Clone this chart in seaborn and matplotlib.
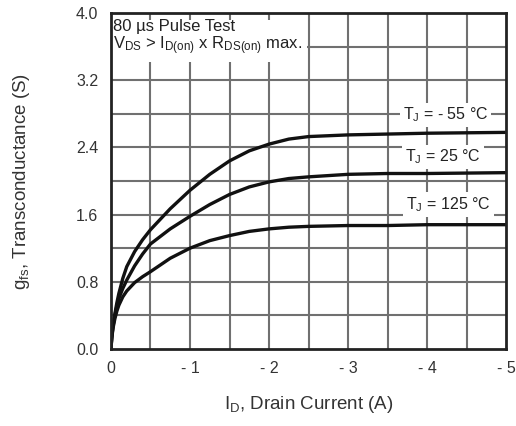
import matplotlib
matplotlib.use('Agg')
import matplotlib.pyplot as plt
import numpy as np
import pandas as pd
import seaborn as sns

# drain current (plotted as magnitude, labelled negative)
i_d = [0, 0.01, 0.025, 0.05, 0.075, 0.1, 0.15, 0.2, 0.3, 0.4, 0.5, 0.75, 1.0, 1.25,
       1.5, 1.75, 2.0, 2.25, 2.5, 3.0, 3.5, 4.0, 5.0]
gfs_m55 = [0, 0.14, 0.27, 0.42, 0.55, 0.66, 0.84, 0.98, 1.16, 1.30, 1.42, 1.67, 1.89,
           2.08, 2.24, 2.36, 2.44, 2.50, 2.53, 2.55, 2.56, 2.57, 2.58]
gfs_25 = [0, 0.13, 0.26, 0.40, 0.51, 0.60, 0.72, 0.82, 0.99, 1.13, 1.25, 1.43, 1.58,
          1.72, 1.84, 1.93, 1.99, 2.03, 2.05, 2.08, 2.09, 2.09, 2.10]
gfs_125 = [0, 0.12, 0.24, 0.36, 0.45, 0.52, 0.62, 0.69, 0.79, 0.86, 0.92, 1.08, 1.20,
           1.29, 1.35, 1.40, 1.43, 1.45, 1.46, 1.47, 1.47, 1.48, 1.48]

x_ticks = [0, 1, 2, 3, 4, 5]
x_labels = ['0', '- 1', '- 2', '- 3', '- 4', '- 5']
y_ticks = [0.0, 0.8, 1.6, 2.4, 3.2, 4.0]
y_labels = ['0.0', '0.8', '1.6', '2.4', '3.2', '4.0']

curve_labels = [r'T$_\mathrm{J}$ = - 55 °C', r'T$_\mathrm{J}$ = 25 °C', r'T$_\mathrm{J}$ = 125 °C']

sns.set_style('white')
plt.rcParams['font.family'] = ['Liberation Sans', 'DejaVu Sans']
plt.rcParams['mathtext.fontset'] = 'custom'
plt.rcParams['mathtext.rm'] = 'Liberation Sans'
plt.rcParams['mathtext.it'] = 'Liberation Sans'

df = pd.concat([
    pd.DataFrame({'Id': i_d, 'gfs': gfs_m55, 'T': '-55'}),
    pd.DataFrame({'Id': i_d, 'gfs': gfs_25, 'T': '25'}),
    pd.DataFrame({'Id': i_d, 'gfs': gfs_125, 'T': '125'}),
])

fig = plt.figure(figsize=(5.16, 4.26), dpi=100)
ax = fig.add_axes([0.215, 0.181, 0.766, 0.788])

# grid
for xv in np.arange(0.5, 5.0, 0.5):
    ax.axvline(xv, color='#707070', lw=1.5, zorder=1)
for yv in np.arange(0.4, 4.0, 0.4):
    ax.axhline(yv, color='#707070', lw=1.5, zorder=1)

sns.lineplot(data=df, x='Id', y='gfs', hue='T', palette=['#111111'] * 3,
             legend=False, lw=2.4, ax=ax, zorder=3, sort=False)

ax.set_xlim(0, 5)
ax.set_ylim(0, 4)
ax.set_xticks(x_ticks)
ax.set_xticklabels(x_labels)
ax.set_yticks(y_ticks)
ax.set_yticklabels(y_labels)
ax.tick_params(length=0, labelsize=11.5, labelcolor='#333333', pad=9)
for s in ax.spines.values():
    s.set_color('#222222')
    s.set_linewidth(2)
    s.set_zorder(5)

ax.set_xlabel(r'I$_\mathrm{D}$, Drain Current (A)', fontsize=13.5, color='#333333', labelpad=13)
ax.set_ylabel(r'g$_\mathrm{fs}$, Transconductance (S)', fontsize=13.5, color='#333333', labelpad=32)

ax.text(0.03, 3.93, '80 µs Pulse Test\n' + r'V$_\mathrm{DS}$ > I$_\mathrm{D(on)}$ x R$_\mathrm{DS(on)}$ max.',
        fontsize=12, va='top', ha='left', color='#222222', zorder=4, linespacing=1.05,
        bbox=dict(facecolor='white', edgecolor='none', pad=3))

box = dict(facecolor='white', edgecolor='none', pad=2)
label_pos = [(4.23, 2.79), (4.2, 2.29), (4.27, 1.72)]
for (lx, ly), lab in zip(label_pos, curve_labels):
    ax.text(lx, ly, lab, fontsize=11.5, ha='center', va='center', color='#222222',
            zorder=4, bbox=box)

fig.savefig('out.png', dpi=100)
